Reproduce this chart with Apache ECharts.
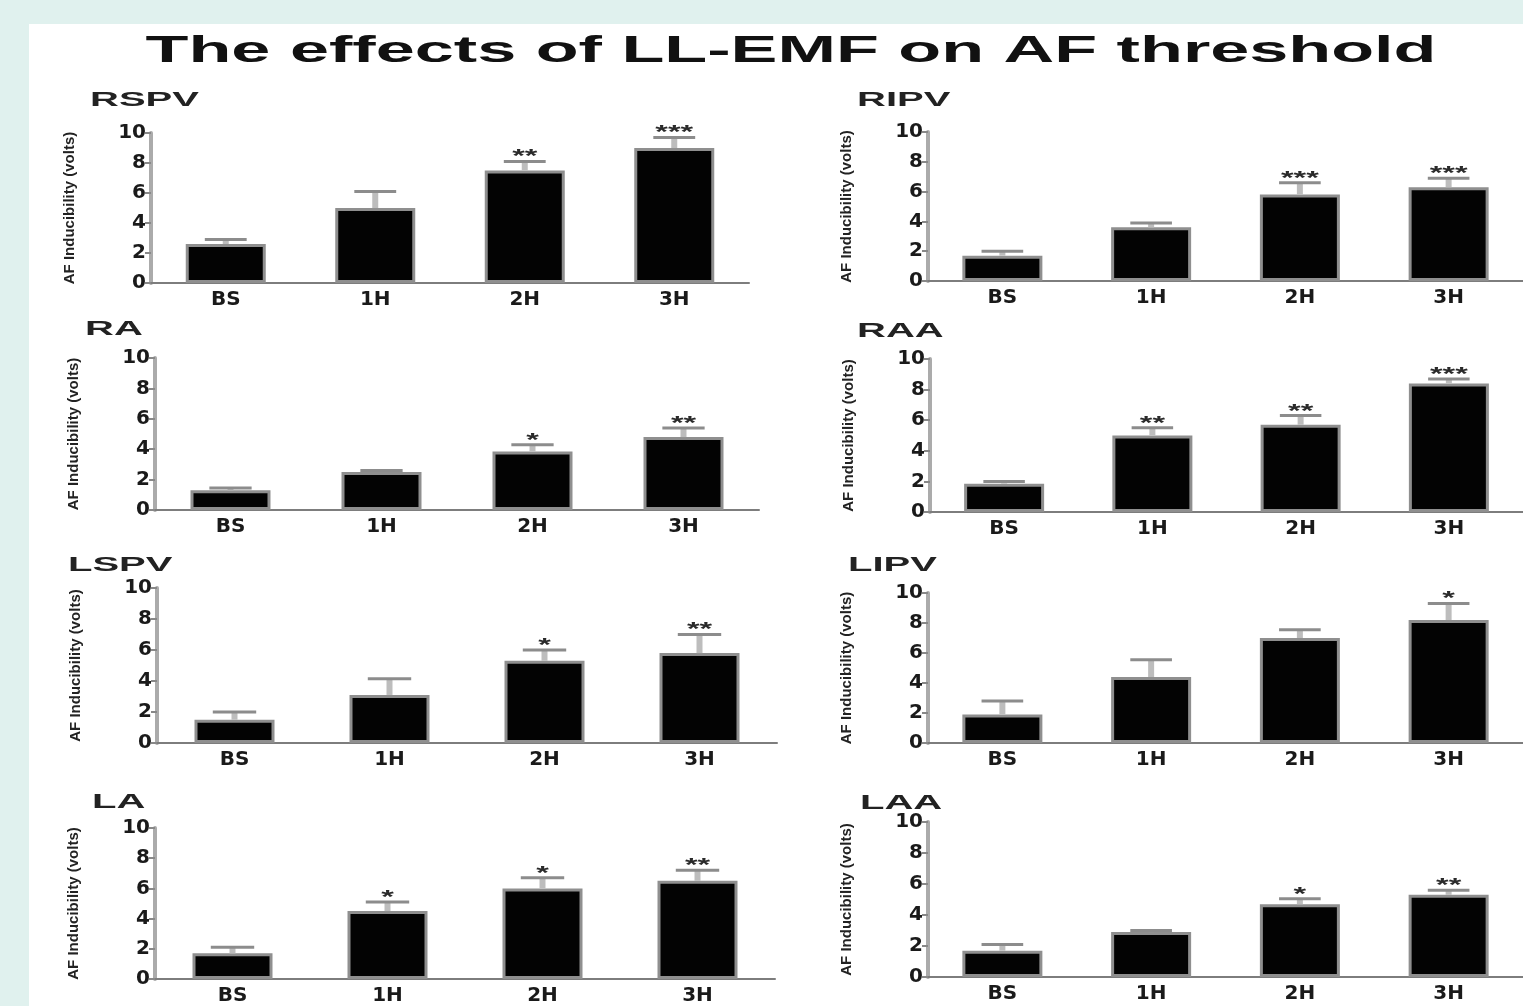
<!DOCTYPE html>
<html>
<head>
<meta charset="utf-8">
<title>The effects of LL-EMF on AF threshold</title>
<script src="https://cdn.jsdelivr.net/npm/echarts@6/dist/echarts.min.js"></script>
<style>
html, body { margin: 0; padding: 0; background: #e0f1ee; }
#main { width: 1523px; height: 1006px; }
</style>
</head>
<body>
<div id="main"></div>
<script>
// categories and y scale
var categories = ['BS', '1H', '2H', '3H'];
var yMin = 0, yMax = 10, yStep = 2;
var panelNames = ['RSPV', 'RIPV', 'RA', 'RAA', 'LSPV', 'LIPV', 'LA', 'LAA'];

// mean values, top of error bar, significance marks
var rspvMean = [2.6, 5.0, 7.5, 9.0];
var rspvUpper = [2.9, 6.1, 8.1, 9.7];
var rspvStars = ['', '', '**', '***'];

var ripvMean = [1.7, 3.6, 5.8, 6.3];
var ripvUpper = [2.0, 3.9, 6.6, 6.9];
var ripvStars = ['', '', '***', '***'];

var raMean = [1.3, 2.5, 3.85, 4.8];
var raUpper = [1.45, 2.6, 4.3, 5.4];
var raStars = ['', '', '*', '**'];

var raaMean = [1.85, 5.0, 5.7, 8.4];
var raaUpper = [2.0, 5.5, 6.3, 8.7];
var raaStars = ['', '**', '**', '***'];

var lspvMean = [1.5, 3.1, 5.3, 5.8];
var lspvUpper = [2.0, 4.15, 6.0, 7.0];
var lspvStars = ['', '', '*', '**'];

var lipvMean = [1.9, 4.4, 7.0, 8.2];
var lipvUpper = [2.8, 5.55, 7.55, 9.3];
var lipvStars = ['', '', '', '*'];

var laMean = [1.7, 4.5, 6.0, 6.5];
var laUpper = [2.1, 5.1, 6.7, 7.2];
var laStars = ['', '*', '*', '**'];

var laaMean = [1.7, 2.9, 4.7, 5.3];
var laaUpper = [2.1, 3.0, 5.05, 5.6];
var laaStars = ['', '', '*', '**'];

var means = [rspvMean, ripvMean, raMean, raaMean, lspvMean, lipvMean, laMean, laaMean];
var uppers = [rspvUpper, ripvUpper, raUpper, raaUpper, lspvUpper, lipvUpper, laUpper, laaUpper];
var stars = [rspvStars, ripvStars, raStars, raaStars, lspvStars, lipvStars, laStars, laaStars];

// panel placement (grid box + label position)
var grids = [
    {left: 151, top: 133, width: 598, height: 150},
    {left: 928, top: 132, width: 600, height: 149},
    {left: 155, top: 358, width: 604, height: 152},
    {left: 930, top: 359, width: 620, height: 153},
    {left: 157, top: 588, width: 620, height: 155},
    {left: 928, top: 593, width: 600, height: 150},
    {left: 155, top: 828, width: 620, height: 155},
    {left: 928, top: 822, width: 620, height: 155}
];
var labelPos = [[90, 100], [857, 100], [85, 329], [857, 331], [68, 565], [848, 565], [92, 802], [860, 803]];

var fontFam = '"Liberation Sans", Arial, sans-serif';
var tickFont = '"DejaVu Sans", sans-serif';

function errorBarRender(marks) {
    return function (params, api) {
        var idx = api.value(0);
        var base = api.coord([idx, api.value(1)]);
        var top = api.coord([idx, api.value(2)]);
        var half = api.size([1, 0])[0] * 0.14;
        var children = [
            {type: 'line', shape: {x1: top[0], y1: base[1], x2: top[0], y2: top[1]},
                style: {stroke: '#bdbdbd', lineWidth: 6}},
            {type: 'line', shape: {x1: top[0] - half, y1: top[1], x2: top[0] + half, y2: top[1]},
                style: {stroke: '#8c8c8c', lineWidth: 3}}
        ];
        var s = marks[params.dataIndex];
        if (s) {
            children.push({
                type: 'text', x: top[0], y: top[1] - 4, scaleX: 1.8,
                style: {text: s, fill: '#2a2a2a', font: 'bold 18px ' + fontFam, align: 'center', verticalAlign: 'middle'}
            });
        }
        return {type: 'group', children: children};
    };
}

var xAxes = [], yAxes = [], series = [];
var graphics = [
    {type: 'rect', z: -10, shape: {x: 29, y: 24, width: 1500, height: 990}, style: {fill: '#ffffff'}},
    {type: 'text', x: 791, y: 52, scaleX: 1.95,
        style: {text: 'The effects of LL-EMF on AF threshold', fill: '#111', font: 'bold 36px ' + fontFam,
            align: 'center', verticalAlign: 'middle'}}
];

for (var i = 0; i < panelNames.length; i++) {
    graphics.push({
        type: 'text', x: labelPos[i][0], y: labelPos[i][1], scaleX: 2.0,
        style: {text: panelNames[i], fill: '#222', font: 'bold 20px ' + fontFam, align: 'left', verticalAlign: 'middle'}
    });
    xAxes.push({
        type: 'category',
        gridIndex: i,
        data: categories,
        axisLine: {lineStyle: {color: '#7d7d7d', width: 2}},
        axisTick: {alignWithLabel: true, length: 4, lineStyle: {color: '#aaa', width: 2}},
        axisLabel: {color: '#1a1a1a', fontSize: 20, fontWeight: 'bold', fontFamily: tickFont, margin: 7}
    });
    yAxes.push({
        type: 'value',
        gridIndex: i,
        min: yMin,
        max: yMax,
        interval: yStep,
        name: 'AF Inducibility (volts)',
        nameLocation: 'middle',
        nameGap: 74,
        nameTextStyle: {color: '#222', fontSize: 15, fontWeight: 'bold', fontFamily: fontFam},
        splitLine: {show: false},
        axisLine: {show: true, lineStyle: {color: '#ababab', width: 4}},
        axisTick: {show: true, length: 6, lineStyle: {color: '#888', width: 2}},
        axisLabel: {color: '#1a1a1a', fontSize: 20, fontWeight: 'bold', fontFamily: tickFont, margin: 5}
    });
    series.push({
        type: 'bar',
        xAxisIndex: i,
        yAxisIndex: i,
        barWidth: 80,
        data: means[i],
        itemStyle: {color: '#030303', borderColor: '#8f8f8f', borderWidth: 3}
    });
    var errData = [];
    for (var j = 0; j < categories.length; j++) {
        errData.push([j, means[i][j], uppers[i][j]]);
    }
    series.push({
        type: 'custom',
        xAxisIndex: i,
        yAxisIndex: i,
        z: 5,
        encode: {x: 0, y: [1, 2]},
        renderItem: errorBarRender(stars[i]),
        data: errData
    });
}

var myChart = echarts.init(document.getElementById('main'));
myChart.setOption({
    animation: false,
    backgroundColor: 'transparent',
    graphic: graphics,
    grid: grids,
    xAxis: xAxes,
    yAxis: yAxes,
    series: series
});
</script>
</body>
</html>
